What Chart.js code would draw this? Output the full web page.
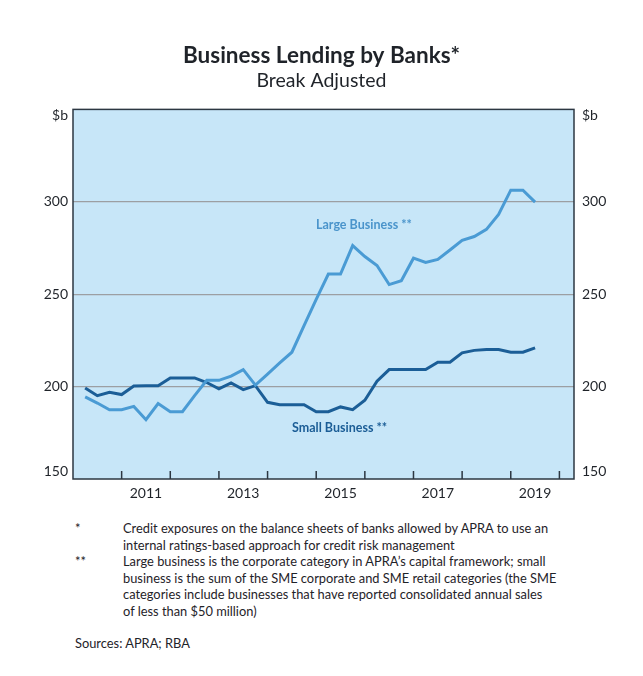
<!DOCTYPE html>
<html>
<head>
<meta charset="utf-8">
<script src="https://cdn.jsdelivr.net/npm/chart.js@4.4.1/dist/chart.umd.min.js"></script>
<style>
  body { margin: 0; background: #fff; font-family: Lato, "Open Sans", sans-serif; color: #1f2329; }
  #wrap { position: relative; width: 643px; height: 676px; }
  #chartBox { position: absolute; left: 0; top: 0; width: 643px; height: 510px; }
  #notes { position: absolute; left: 0; top: 520px; width: 643px; font-size: 12.85px; line-height: 16.6px; }
  .row { position: relative; padding-left: 123px; white-space: nowrap; }
  .mark { position: absolute; left: 75px; }
  #source { position: absolute; left: 75px; top: 635px; font-size: 12.85px; }
</style>
</head>
<body>
<div id="wrap">
  <div id="chartBox"><canvas id="lendingChart"></canvas></div>
  <div id="notes">
    <div class="row"><span class="mark">*</span>Credit exposures on the balance sheets of banks allowed by APRA to use an</div>
    <div class="row">internal ratings-based approach for credit risk management</div>
    <div class="row"><span class="mark">**</span>Large business is the corporate category in APRA’s capital framework; small</div>
    <div class="row">business is the sum of the SME corporate and SME retail categories (the SME</div>
    <div class="row">categories include businesses that have reported consolidated annual sales</div>
    <div class="row">of less than $50 million)</div>
  </div>
  <div id="source">Sources: APRA; RBA</div>
</div>
<script>
// quarter ends, break-adjusted $b
const quarters = [
  '2010-03', '2010-06', '2010-09', '2010-12',
  '2011-03', '2011-06', '2011-09', '2011-12',
  '2012-03', '2012-06', '2012-09', '2012-12',
  '2013-03', '2013-06', '2013-09', '2013-12',
  '2014-03', '2014-06', '2014-09', '2014-12',
  '2015-03', '2015-06', '2015-09', '2015-12',
  '2016-03', '2016-06', '2016-09', '2016-12',
  '2017-03', '2017-06', '2017-09', '2017-12',
  '2018-03', '2018-06', '2018-09', '2018-12',
  '2019-03', '2019-06'
];
const largeBusiness = [
  194.4, 191.1, 187.5, 187.5, 189.3, 182.1, 190.8, 186.4, 186.4, 195.1,
  203.4, 203.4, 205.7, 209.2, 200.8, 206.8, 212.8, 218.6, 233.0, 247.2,
  260.9, 260.9, 276.3, 270.4, 265.5, 255.2, 257.3, 269.5, 267.2, 268.8,
  273.9, 279.1, 281.2, 285.1, 293.2, 306.3, 306.3, 299.8
];
const smallBusiness = [
  199.3, 195.1, 196.9, 195.7, 200.3, 200.5, 200.5, 204.7, 204.7, 204.7,
  202.2, 198.8, 202.0, 198.4, 200.5, 191.5, 190.2, 190.2, 190.2, 186.4,
  186.4, 189.0, 187.5, 192.6, 202.9, 209.2, 209.2, 209.2, 209.2, 213.2,
  213.2, 218.3, 219.6, 220.1, 220.1, 218.6, 218.6, 221.0
];
const labelYears = [2011, 2013, 2015, 2017, 2019];
const yearTicks = [2011, 2012, 2013, 2014, 2015, 2016, 2017, 2018, 2019, 2020];
const seriesLabels = [
  { text: 'Large Business **', x: 2015.98, y: 287.5, color: '#4a94cb' },
  { text: 'Small Business **', x: 2015.48, y: 177.7, color: '#1b5d96' }
];

const lightBlue = '#4a9bd4';
const darkBlue = '#1b5e97';
const plotBg = '#c7e6f8';
const frameColor = '#2c3742';
const gridGrey = '#9c9fa3';
const textColor = '#1f2329';
const tickFont = '14px Lato, sans-serif';

const toX = q => {
  const [yr, mo] = q.split('-').map(Number);
  return yr + mo / 12;
};

const plotFrame = {
  id: 'plotFrame',
  beforeDraw(chart) {
    const { ctx, chartArea: a } = chart;
    ctx.save();
    ctx.fillStyle = plotBg;
    ctx.fillRect(a.left, a.top, a.width, a.height);
    ctx.restore();
  },
  afterDraw(chart) {
    const { ctx, chartArea: a, scales } = chart;
    ctx.save();
    ctx.strokeStyle = frameColor;
    ctx.lineWidth = 1.5;
    ctx.strokeRect(a.left, a.top, a.width, a.height);
    ctx.beginPath();
    yearTicks.forEach(yr => {
      const px = scales.x.getPixelForValue(yr);
      ctx.moveTo(px, a.bottom);
      ctx.lineTo(px, a.bottom - 8);
    });
    ctx.stroke();

    // end labels sit just inside the frame, like the original
    ctx.font = tickFont;
    ctx.fillStyle = textColor;
    ctx.textBaseline = 'middle';
    const top = scales.y.getPixelForValue(350) + 6;
    const bottom = scales.y.getPixelForValue(150) - 8;
    ctx.textAlign = 'right';
    ctx.fillText('$b', a.left - 5, top);
    ctx.fillText('150', a.left - 5, bottom);
    ctx.textAlign = 'left';
    ctx.fillText('$b', a.right + 8, top);
    ctx.fillText('150', a.right + 8, bottom);

    ctx.font = 'bold 12.5px Lato, sans-serif';
    ctx.textAlign = 'center';
    seriesLabels.forEach(l => {
      ctx.fillStyle = l.color;
      ctx.fillText(l.text, scales.x.getPixelForValue(l.x), scales.y.getPixelForValue(l.y));
    });
    ctx.restore();
  }
};

const yTicks = {
  stepSize: 50,
  font: { size: 14, family: 'Lato' },
  color: textColor,
  callback: v => (v === 350 || v === 150 ? '' : v)
};

new Chart(document.getElementById('lendingChart'), {
  type: 'line',
  data: {
    datasets: [
      {
        label: 'Large Business',
        data: quarters.map((q, i) => ({ x: toX(q), y: largeBusiness[i] })),
        borderColor: lightBlue,
        borderWidth: 3,
        pointRadius: 0,
        tension: 0,
        fill: false
      },
      {
        label: 'Small Business',
        data: quarters.map((q, i) => ({ x: toX(q), y: smallBusiness[i] })),
        borderColor: darkBlue,
        borderWidth: 3,
        pointRadius: 0,
        tension: 0,
        fill: false
      }
    ]
  },
  options: {
    responsive: true,
    maintainAspectRatio: false,
    animation: false,
    layout: { padding: { top: 30, left: 0, right: 0, bottom: 0 } },
    plugins: {
      legend: { display: false },
      tooltip: { enabled: false },
      title: {
        display: true,
        text: 'Business Lending by Banks*',
        color: textColor,
        font: { size: 22.5, weight: 'bold', family: 'Lato' },
        padding: { top: 12, bottom: 0 }
      },
      subtitle: {
        display: true,
        text: 'Break Adjusted',
        color: textColor,
        font: { size: 19.5, family: 'Lato' },
        padding: { top: 0, bottom: 17 }
      }
    },
    scales: {
      x: {
        type: 'linear',
        min: 2010,
        max: 2020.3,
        grid: { display: false, drawTicks: false },
        border: { display: false },
        afterBuildTicks: s => { s.ticks = labelYears.map(yr => ({ value: yr + 0.5 })); },
        afterFit: s => { s.height = 31; },
        ticks: {
          autoSkip: false,
          maxRotation: 0,
          padding: 6,
          font: { size: 14, family: 'Lato' },
          color: textColor,
          callback: v => String(Math.floor(v))
        }
      },
      y: {
        position: 'left',
        min: 150,
        max: 350,
        border: { display: false },
        grid: {
          drawTicks: false,
          color: c => (c.tick.value === 150 || c.tick.value === 350 ? 'rgba(0,0,0,0)' : gridGrey),
          lineWidth: 1.2
        },
        afterFit: s => { s.width = 73; },
        ticks: { ...yTicks, padding: 5 }
      },
      y2: {
        position: 'right',
        min: 150,
        max: 350,
        border: { display: false },
        grid: { display: false, drawTicks: false },
        afterFit: s => { s.width = 69; },
        ticks: { ...yTicks, padding: 8 }
      }
    }
  },
  plugins: [plotFrame]
});
</script>
</body>
</html>
